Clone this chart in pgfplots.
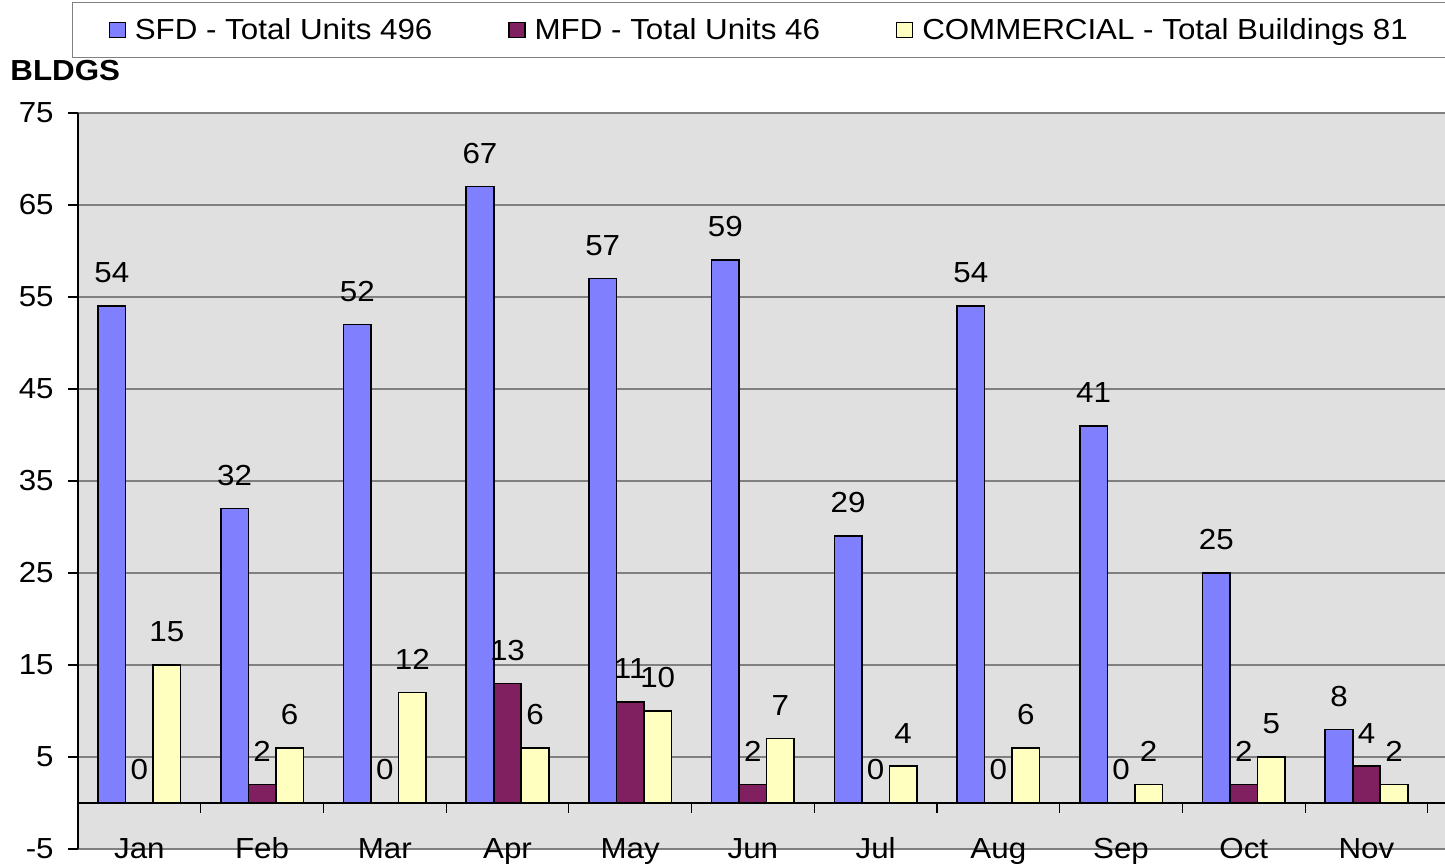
\documentclass[border=0pt]{standalone}
\usepackage{fontspec}
\setmainfont{Liberation Sans}[FakeStretch=1.08]
\usepackage{pgfplots}
\pgfplotsset{compat=1.18}
\definecolor{sfd}{HTML}{8080FF}
\definecolor{mfd}{HTML}{802060}
\definecolor{comm}{HTML}{FFFFC0}
\definecolor{bg}{HTML}{E0E0E0}
\definecolor{gridc}{HTML}{808080}
\newcommand\cf{\fontsize{14.5}{17}\selectfont}
\begin{document}
\begin{tikzpicture}
\useasboundingbox (-39pt,-9pt) rectangle (683.5pt,424.5pt);
\begin{axis}[
  at={(0,0)}, anchor=south west,
  scale only axis, width=683.5pt, height=368pt,
  xmin=0.5, xmax=11.64, ymin=-5, ymax=75,
  ybar=0pt, bar width=13.75pt,
  axis background/.style={fill=bg},
  axis x line*=bottom, axis y line*=left,
  x axis line style={draw=none},
  y axis line style={draw=black, line width=0.6pt},
  xtick={1,...,11},
  xticklabels={Jan,Feb,Mar,Apr,May,Jun,Jul,Aug,Sep,Oct,Nov},
  xtick style={draw=none},
  ytick={-5,5,...,75},
  tick align=outside, major tick length=5pt,
  ytick style={black, line width=0.6pt},
  ymajorgrids, grid style={gridc, line width=0.6pt},
  ticklabel style={font=\cf},
  /pgf/number format/assume math mode=true,
  xticklabel style={anchor=base, yshift=0.5pt},
  yticklabel style={anchor=east, inner sep=0pt, xshift=-7pt},
  ylabel={BLDGS},
  ylabel style={rotate=-90, at={(axis description cs:-0.04974,1.04484)}, anchor=base west, inner sep=0pt, font=\cf\bfseries},
  nodes near coords,
  every node near coord/.append style={font=\cf, black, yshift=7.8pt},
  legend columns=3,
  legend cell align=left,
  legend style={at={(-0.00439,1.15082)}, anchor=north west, draw=gridc, line width=0.6pt, font=\cf, inner xsep=18pt, inner ysep=5.75pt, /tikz/every even column/.append style={column sep=33.5pt}, nodes={inner xsep=4.5pt}},
  legend image code/.code={\draw[#1, line width=0.6pt] (0pt,-3.75pt) rectangle (8pt,3.75pt);},
]
\addplot[fill=sfd, draw=black, line width=0.8pt] coordinates {(1,54) (2,32) (3,52) (4,67) (5,57) (6,59) (7,29) (8,54) (9,41) (10,25) (11,8)};
\addlegendentry{SFD - Total Units 496}
\addplot[fill=mfd, draw=black, line width=0.8pt] coordinates {(1,0) (2,2) (3,0) (4,13) (5,11) (6,2) (7,0) (8,0) (9,0) (10,2) (11,4)};
\addlegendentry{MFD - Total Units 46}
\addplot[fill=comm, draw=black, line width=0.8pt] coordinates {(1,15) (2,6) (3,12) (4,6) (5,10) (6,7) (7,4) (8,6) (9,2) (10,5) (11,2)};
\addlegendentry{COMMERCIAL - Total Buildings 81}
\draw[black, line width=0.6pt] (axis cs:0.5,0) -- (axis cs:11.64,0);
\pgfplotsinvokeforeach{1.5,2.5,3.5,4.5,5.5,6.5,7.5,8.5,9.5,10.5,11.5}{\draw[black, line width=0.6pt] (axis cs:#1,0) -- ++(0pt,-5pt);}
\end{axis}
\end{tikzpicture}
\end{document}
